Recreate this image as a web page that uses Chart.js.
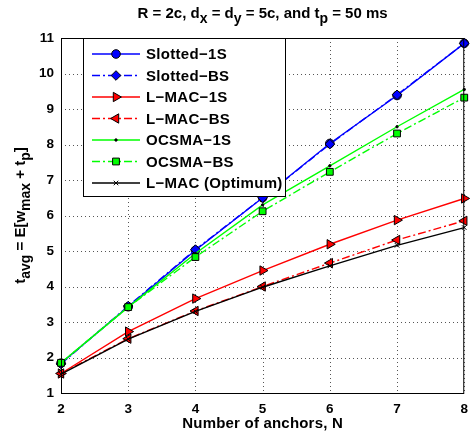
<!DOCTYPE html>
<html>
<head>
<meta charset="utf-8">
<script src="https://cdn.jsdelivr.net/npm/chart.js@4/dist/chart.umd.min.js"></script>
<style>
html, body { margin: 0; padding: 0; background: #fff; }
#wrap { width: 476px; height: 436px; }
</style>
</head>
<body>
<div id="wrap"><canvas id="c" width="476" height="436"></canvas></div>
<script>
// values
const anchors = [2, 3, 4, 5, 6, 7, 8];
const slotted1S = [1.84, 3.43, 5.02, 6.50, 8.03, 9.38, 10.85];
const slottedBS = [1.82, 3.45, 5.04, 6.50, 8.01, 9.40, 10.85];
const lmac1S = [1.55, 2.73, 3.66, 4.45, 5.19, 5.87, 6.48];
const lmacBS = [1.55, 2.53, 3.31, 4.00, 4.66, 5.31, 5.85];
const ocsma1S = [1.85, 3.42, 4.93, 6.30, 7.40, 8.50, 9.55];
const ocsmaBS = [1.85, 3.42, 4.83, 6.12, 7.23, 8.31, 9.32];
const lmacOpt = [1.53, 2.52, 3.30, 3.98, 4.58, 5.16, 5.66];

const xTicks = [2, 3, 4, 5, 6, 7, 8];
const yTicks = [1, 2, 3, 4, 5, 6, 7, 8, 9, 10, 11];

const FONT = '"Liberation Sans", Arial, Helvetica, sans-serif';
const DASHDOT = [8, 3, 2, 3];

function pts(vals) {
    return anchors.map((x, i) => ({ x: x, y: vals[i] }));
}

function series(label, vals, color, dash, style, rot, radius, fill) {
    return {
        label: label,
        data: pts(vals),
        borderColor: color,
        borderWidth: 1.4,
        borderDash: dash,
        pointStyle: style,
        pointRotation: rot,
        pointRadius: radius,
        pointBackgroundColor: fill,
        pointBorderColor: '#000',
        pointBorderWidth: 1,
        tension: 0,
        clip: false
    };
}

const datasets = [
    series('Slotted\u22121S', slotted1S, '#0000ff', [], 'circle', 0, 4.3, '#0000ff'),
    series('Slotted\u2212BS', slottedBS, '#0000ff', DASHDOT, 'rectRot', 0, 4.8, '#0000ff'),
    series('L\u2212MAC\u22121S', lmac1S, '#ff0000', [], 'triangle', 90, 5.4, '#ff0000'),
    series('L\u2212MAC\u2212BS', lmacBS, '#ff0000', DASHDOT, 'triangle', -90, 5.4, '#ff0000'),
    series('OCSMA\u22121S', ocsma1S, '#00ff00', [], 'circle', 0, 1.2, '#000'),
    series('OCSMA\u2212BS', ocsmaBS, '#00ff00', DASHDOT, 'rect', 0, 4.8, '#00ff00'),
    series('L\u2212MAC (Optimum)', lmacOpt, '#000000', [], 'crossRot', 0, 3.2, '#000')
];
// later series on top, like the original
datasets.forEach((d, i) => { d.order = datasets.length - i; });

// text with subscripts: parts = [[text, isSub], ...]
function richText(ctx, parts, x, y, size, spacing) {
    const subSize = Math.round(size * 0.9);
    ctx.letterSpacing = spacing + 'px';
    let total = 0;
    const widths = parts.map(p => {
        ctx.font = 'bold ' + (p[1] ? subSize : size) + 'px ' + FONT;
        const w = ctx.measureText(p[0]).width;
        total += w;
        return w;
    });
    let cx = x - total / 2;
    ctx.textAlign = 'left';
    ctx.textBaseline = 'alphabetic';
    parts.forEach((p, i) => {
        ctx.font = 'bold ' + (p[1] ? subSize : size) + 'px ' + FONT;
        ctx.fillText(p[0], cx, p[1] ? y + size * 0.33 : y);
        cx += widths[i];
    });
    ctx.letterSpacing = '0px';
}

const dottedGrid = {
    id: 'dottedGrid',
    beforeDatasetsDraw(chart) {
        const ctx = chart.ctx;
        const a = chart.chartArea;
        const sx = chart.scales.x, sy = chart.scales.y;
        ctx.save();
        ctx.strokeStyle = '#555';
        ctx.lineWidth = 1;
        ctx.setLineDash([1, 3]);
        ctx.beginPath();
        xTicks.forEach(v => {
            const x = Math.round(sx.getPixelForValue(v)) + 0.5;
            ctx.moveTo(x, a.top);
            ctx.lineTo(x, a.bottom);
        });
        yTicks.forEach(v => {
            const y = Math.round(sy.getPixelForValue(v)) + 0.5;
            ctx.moveTo(a.left, y);
            ctx.lineTo(a.right, y);
        });
        ctx.stroke();
        ctx.restore();
    }
};

const decor = {
    id: 'decor',
    afterDraw(chart) {
        const ctx = chart.ctx;
        const a = chart.chartArea;
        ctx.save();

        // axes box
        ctx.strokeStyle = '#000';
        ctx.lineWidth = 1;
        ctx.setLineDash([]);
        ctx.strokeRect(a.left + 0.5, a.top + 0.5, a.right - a.left - 1, a.bottom - a.top);

        // legend
        const lx = a.left + 22, ly = a.top, lw = 202, lh = 158;
        ctx.fillStyle = '#fff';
        ctx.fillRect(lx, ly, lw, lh);
        ctx.strokeStyle = '#000';
        ctx.strokeRect(lx + 0.5, ly + 0.5, lw, lh);
        chart.data.datasets.forEach((ds, i) => {
            const y = ly + 16 + i * 21.5;
            ctx.strokeStyle = ds.borderColor;
            ctx.lineWidth = ds.borderWidth;
            ctx.setLineDash(ds.borderDash);
            ctx.beginPath();
            ctx.moveTo(lx + 9, y);
            ctx.lineTo(lx + 57, y);
            ctx.stroke();
            ctx.setLineDash([]);
            ctx.fillStyle = ds.pointBackgroundColor;
            ctx.strokeStyle = ds.pointBorderColor;
            ctx.lineWidth = ds.pointBorderWidth;
            Chart.helpers.drawPoint(ctx, {
                pointStyle: ds.pointStyle,
                rotation: ds.pointRotation,
                radius: ds.pointRadius,
                borderWidth: ds.pointBorderWidth
            }, lx + 33, y);
            ctx.fillStyle = '#000';
            ctx.font = 'bold 15px ' + FONT;
            ctx.letterSpacing = '0.3px';
            ctx.textAlign = 'left';
            ctx.textBaseline = 'middle';
            ctx.fillText(ds.label, lx + 63, y + 1);
            ctx.letterSpacing = '0px';
        });

        ctx.fillStyle = '#000';
        const cx = (a.left + a.right) / 2;
        // title
        richText(ctx, [['R = 2c, d', 0], ['x', 1], [' = d', 0], ['y', 1],
            [' = 5c, and t', 0], ['p', 1], [' = 50 ms', 0]], cx, 18, 15, 0);
        // x title
        richText(ctx, [['Number of anchors, N', 0]], cx, 428, 15, 0.2);
        // y title
        ctx.translate(25, (a.top + a.bottom) / 2);
        ctx.rotate(-Math.PI / 2);
        richText(ctx, [['t', 0], ['avg', 1], [' = E[w', 0], ['max', 1], [' + t', 0], ['p', 1], [']', 0]], 0, 0, 15, 0);
        ctx.restore();
    }
};

new Chart(document.getElementById('c'), {
    type: 'line',
    data: { datasets: datasets },
    options: {
        responsive: false,
        animation: false,
        layout: { padding: { top: 38, right: 5, left: 0, bottom: 0 } },
        plugins: {
            legend: { display: false },
            title: { display: false },
            tooltip: { enabled: false }
        },
        scales: {
            x: {
                type: 'linear',
                min: 2,
                max: 8,
                afterBuildTicks: s => { s.ticks = xTicks.map(v => ({ value: v })); },
                afterFit: s => { s.height = 43; },
                grid: { display: false, drawTicks: false },
                border: { display: false },
                ticks: { color: '#000', padding: 8, font: { family: FONT, size: 13.5, weight: 'bold' } }
            },
            y: {
                min: 1,
                max: 11,
                afterBuildTicks: s => { s.ticks = yTicks.map(v => ({ value: v })); },
                afterFit: s => { s.width = 61; },
                grid: { display: false, drawTicks: false },
                border: { display: false },
                ticks: { color: '#000', padding: 7, font: { family: FONT, size: 13.5, weight: 'bold' } }
            }
        }
    },
    plugins: [dottedGrid, decor]
});
</script>
</body>
</html>
